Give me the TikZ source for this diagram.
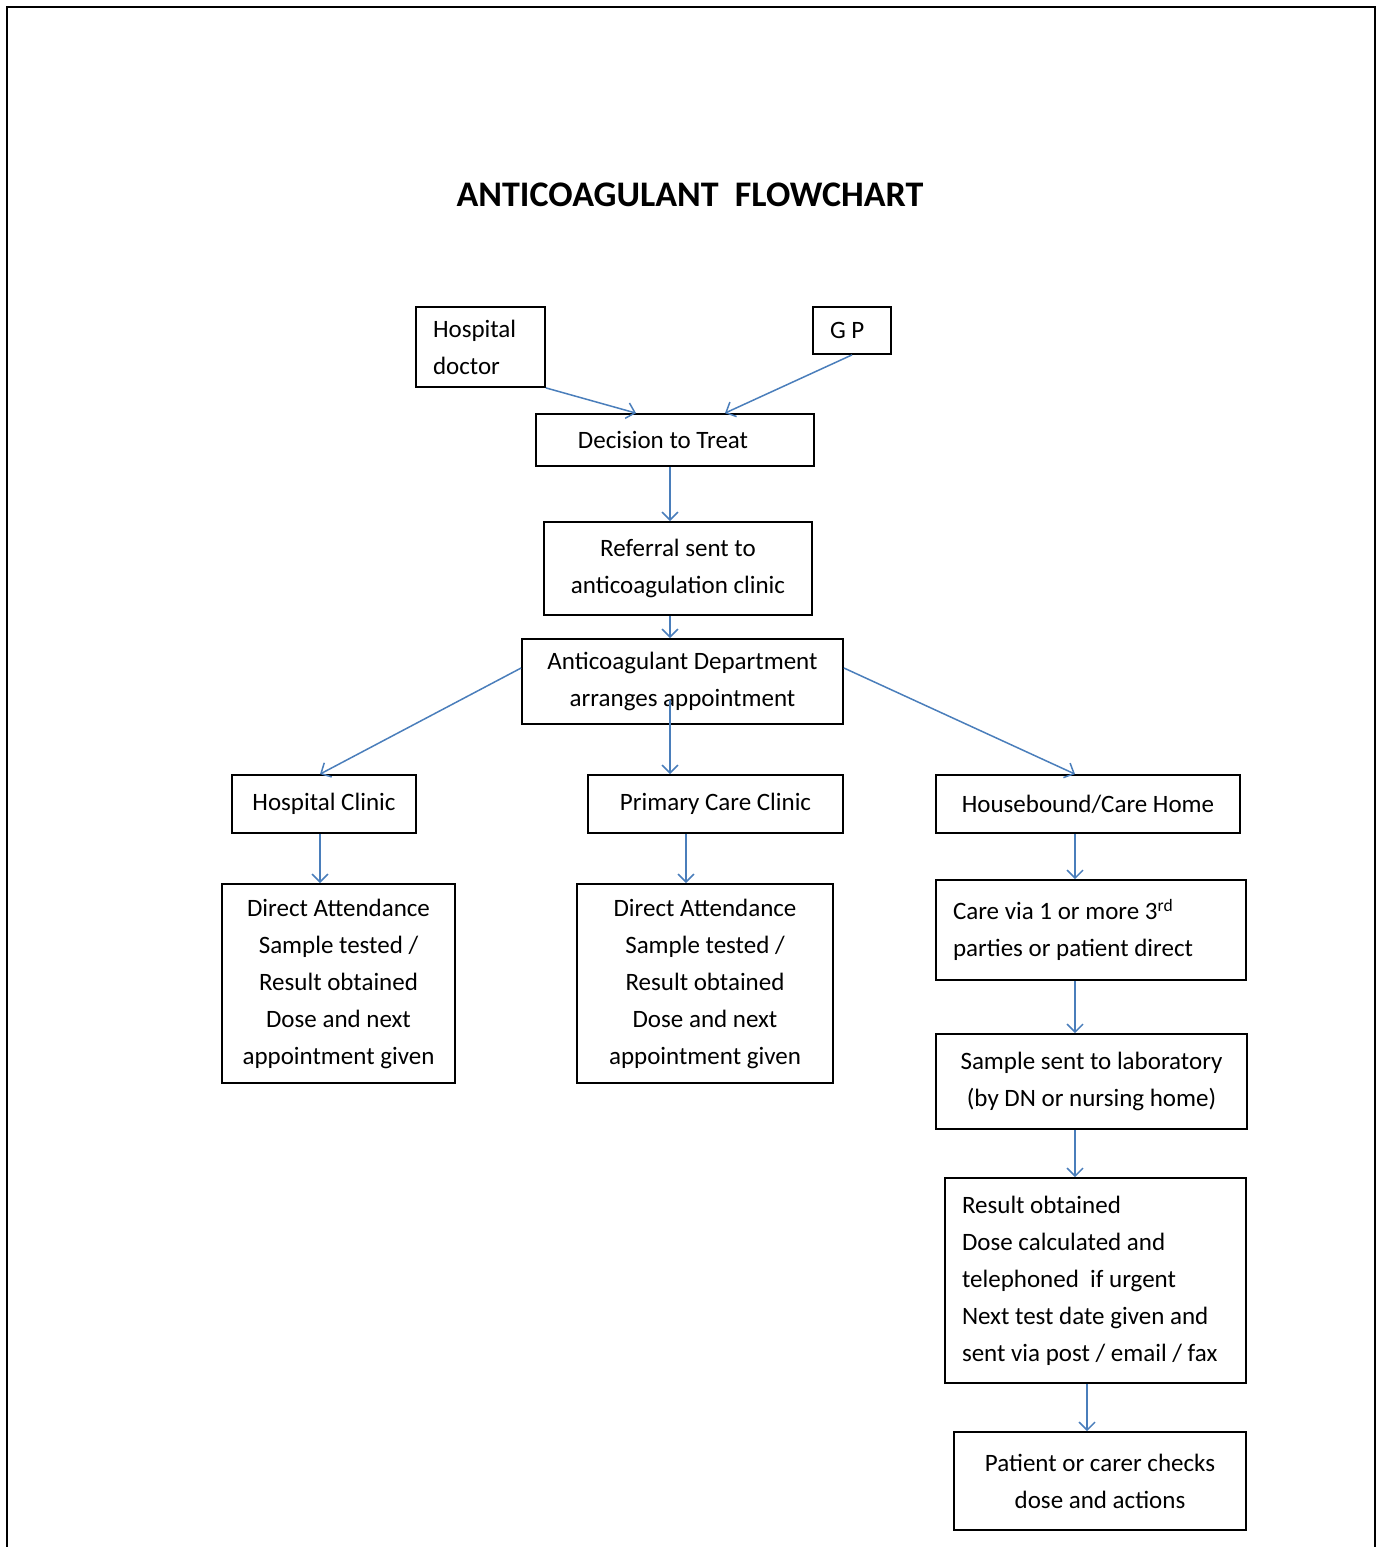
\documentclass[tikz,border=0pt]{standalone}
\usepackage{fontspec}
\setmainfont{Carlito}
\usetikzlibrary{arrows.meta,calc}
\definecolor{wordblue}{RGB}{74,126,187}
\newcommand{\boxfont}{\fontsize{12.5}{18.5}\selectfont}
\newcommand{\natspace}{\spaceskip=0pt\xspaceskip=0pt\relax}

\begin{document}
\begin{tikzpicture}[x=0.5pt,y=-0.5pt,
        flowbox/.style={draw, line width=0.9pt, inner sep=0pt, align=center, font=\boxfont},
        boxsize/.style 2 args={minimum width=#1*0.5pt, minimum height=#2*0.5pt},
        flowarrow/.style={draw=wordblue, line width=0.75pt, -{Straight Barb[length=4pt,width=8pt]}}]
    \useasboundingbox (0,0) rectangle (1379,1547);
    % page frame
    \draw[line width=1.3pt] (7,1547) -- (7,7) -- (1375,7) -- (1375,1547);
    \node[font=\fontsize{18}{22}\selectfont\bfseries] (title) at (690,195) {ANTICOAGULANT\ \ FLOWCHART};

    % columns the arrows run down
    \coordinate (spine) at (670,0);
    \coordinate (lcol) at (320,0);
    \coordinate (mcol) at (686,0);
    \coordinate (rcol) at (1075,0);
    \coordinate (rcolb) at (1087,0);

    \node[flowbox, boxsize={129}{80}, text width=47.5pt, align=left] (hdoc) at (480.5,347) {\natspace Hospital\\doctor};
    \node[flowbox, boxsize={78}{47}, text width=22pt, align=left] (gp) at (852,330.5) {\natspace G P};
    \node[flowbox, boxsize={278}{52}] (dec) at (675,440) {Decision to Treat\hspace{12pt}};
    \node[flowbox, boxsize={268}{93}] (ref) at (678,568.5) {Referral sent to\\anticoagulation clinic};
    \node[flowbox, boxsize={321}{85}] (dept) at (682.5,681.5) {Anticoagulant Department\\arranges appointment};
    \node[flowbox, boxsize={184}{58}] (hcl) at (324,804) {Hospital Clinic};
    \node[flowbox, boxsize={255}{58}] (pcc) at (715.5,804) {Primary Care Clinic};
    \node[flowbox, boxsize={304}{58}] (hb) at (1088,804) {Housebound/Care Home};
    \node[flowbox, boxsize={233}{199}] (da1) at (338.5,983.5)
        {Direct Attendance\\Sample tested /\\Result obtained\\Dose and next\\appointment given};
    \node[flowbox, boxsize={256}{199}] (da2) at (705,983.5)
        {Direct Attendance\\Sample tested /\\Result obtained\\Dose and next\\appointment given};
    \node[flowbox, boxsize={310}{100}, text width=138pt, align=left] (care) at (1091,930)
        {\natspace Care via 1 or more 3\textsuperscript{rd}\\parties or patient direct};
    \node[flowbox, boxsize={311}{95}] (samp) at (1091.5,1081.5) {Sample sent to laboratory\\(by DN or nursing home)};
    \node[flowbox, boxsize={301}{205}, text width=133.5pt, align=left] (res) at (1095.5,1280.5)
        {\natspace Result obtained\\Dose calculated and\\telephoned\ \ if urgent\\Next test date given and\\sent via post / email / fax};
    \node[flowbox, boxsize={292}{98}] (pat) at (1100,1481) {Patient or carer checks\\dose and actions};

    \draw[flowarrow] (hdoc.south east) -- ([xshift=-19.5pt]dec.north);
    \draw[flowarrow] (gp.south) -- ([xshift=25pt]dec.north);
    \draw[flowarrow] (dec.south -| spine) -- (ref.north -| spine);
    \draw[flowarrow] (ref.south -| spine) -- (dept.north -| spine);
    \draw[flowarrow] ($(dept.center -| spine)+(0,18.5)$) -- (pcc.north -| spine);
    \draw[flowarrow] ([yshift=6.75pt]dept.west) -- (hcl.north -| lcol);
    \draw[flowarrow] ([yshift=6.75pt]dept.east) -- (hb.north -| rcol);
    \draw[flowarrow] (hcl.south -| lcol) -- (da1.north -| lcol);
    \draw[flowarrow] (pcc.south -| mcol) -- (da2.north -| mcol);
    \draw[flowarrow] (hb.south -| rcol) -- (care.north -| rcol);
    \draw[flowarrow] (care.south -| rcol) -- (samp.north -| rcol);
    \draw[flowarrow] (samp.south -| rcol) -- (res.north -| rcol);
    \draw[flowarrow] (res.south -| rcolb) -- (pat.north -| rcolb);
\end{tikzpicture}
\end{document}
